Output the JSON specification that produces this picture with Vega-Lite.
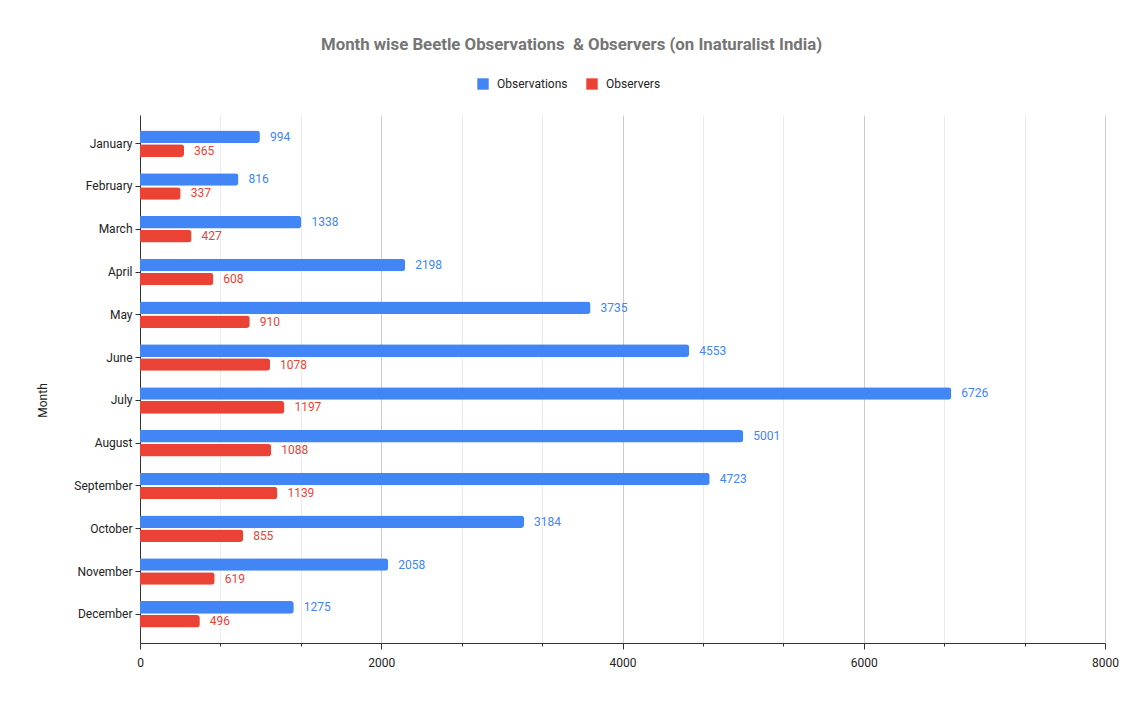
{
  "$schema": "https://vega.github.io/schema/vega-lite/v6.json",
  "width": 965,
  "height": 528,
  "autosize": {"type": "none"},
  "padding": {"left": 140, "top": 115, "right": 36, "bottom": 62},
  "background": "white",
  "title": {
    "text": "Month wise Beetle Observations\u00a0 & Observers (on Inaturalist India)",
    "font": "Roboto",
    "fontSize": 16.8,
    "fontWeight": "bold",
    "color": "#757575",
    "anchor": "middle",
    "dx": -51,
    "offset": 24
  },
  "data": {
    "values": [
      {"month": "January", "series": "Observations", "value": 994},
      {"month": "January", "series": "Observers", "value": 365},
      {"month": "February", "series": "Observations", "value": 816},
      {"month": "February", "series": "Observers", "value": 337},
      {"month": "March", "series": "Observations", "value": 1338},
      {"month": "March", "series": "Observers", "value": 427},
      {"month": "April", "series": "Observations", "value": 2198},
      {"month": "April", "series": "Observers", "value": 608},
      {"month": "May", "series": "Observations", "value": 3735},
      {"month": "May", "series": "Observers", "value": 910},
      {"month": "June", "series": "Observations", "value": 4553},
      {"month": "June", "series": "Observers", "value": 1078},
      {"month": "July", "series": "Observations", "value": 6726},
      {"month": "July", "series": "Observers", "value": 1197},
      {"month": "August", "series": "Observations", "value": 5001},
      {"month": "August", "series": "Observers", "value": 1088},
      {"month": "September", "series": "Observations", "value": 4723},
      {"month": "September", "series": "Observers", "value": 1139},
      {"month": "October", "series": "Observations", "value": 3184},
      {"month": "October", "series": "Observers", "value": 855},
      {"month": "November", "series": "Observations", "value": 2058},
      {"month": "November", "series": "Observers", "value": 619},
      {"month": "December", "series": "Observations", "value": 1275},
      {"month": "December", "series": "Observers", "value": 496}
    ]
  },
  "encoding": {
    "y": {
      "field": "month",
      "type": "nominal",
      "sort": null,
      "scale": {"paddingInner": 0.38, "paddingOuter": 0.36},
      "axis": {
        "title": "Month",
        "titleFont": "Roboto",
        "titleFontSize": 12,
        "titleFontWeight": "normal",
        "titleColor": "#222222",
        "titleX": -98,
        "titleY": 285,
        "titleAlign": "center",
        "titleBaseline": "middle",
        "labelFont": "Roboto",
        "labelFontSize": 12,
        "labelColor": "#222222",
        "labelPadding": 3,
        "domainColor": "#333333",
        "tickColor": "#333333",
        "tickSize": 5,
        "grid": false
      }
    },
    "yOffset": {
      "field": "series",
      "type": "nominal",
      "scale": {"paddingInner": 0.1}
    },
    "x": {
      "field": "value",
      "type": "quantitative",
      "scale": {"domain": [0, 8000], "nice": false},
      "axis": {
        "title": null,
        "values": [0, 666.6666666666666, 1333.3333333333333, 2000, 2666.6666666666665, 3333.3333333333335, 4000, 4666.666666666667, 5333.333333333333, 6000, 6666.666666666667, 7333.333333333333, 8000],
        "format": "d",
        "labelExpr": "datum.value % 2000 == 0 ? datum.label : ''",
        "labelFlush": false,
        "labelOverlap": false,
        "labelFont": "Roboto",
        "labelFontSize": 12,
        "labelColor": "#222222",
        "labelPadding": 8,
        "domainColor": "#333333",
        "tickColor": "#333333",
        "tickSize": {"condition": {"test": "datum.value % 2000 == 0", "value": 6}, "value": 3},
        "grid": true,
        "gridColor": {"condition": {"test": "datum.value % 2000 == 0", "value": "#cccccc"}, "value": "#ebebeb"},
        "zindex": 0
      }
    },
    "color": {
      "field": "series",
      "type": "nominal",
      "scale": {"domain": ["Observations", "Observers"], "range": ["#4285F4", "#EA4335"]},
      "legend": {
        "title": null,
        "orient": "none",
        "direction": "horizontal",
        "legendX": 337,
        "legendY": -37,
        "symbolType": "square",
        "symbolSize": 130,
        "symbolStrokeWidth": 0,
        "labelFont": "Roboto",
        "labelFontSize": 12,
        "labelColor": "#222222",
        "columnPadding": 18,
        "labelOffset": 8
      }
    }
  },
  "layer": [
    {"mark": {"type": "bar", "cornerRadiusEnd": 3}},
    {
      "mark": {"type": "text", "align": "left", "baseline": "middle", "dx": 10, "font": "Roboto", "fontSize": 12},
      "encoding": {"text": {"field": "value", "type": "quantitative", "format": "d"}}
    }
  ],
  "config": {"view": {"stroke": null}}
}
